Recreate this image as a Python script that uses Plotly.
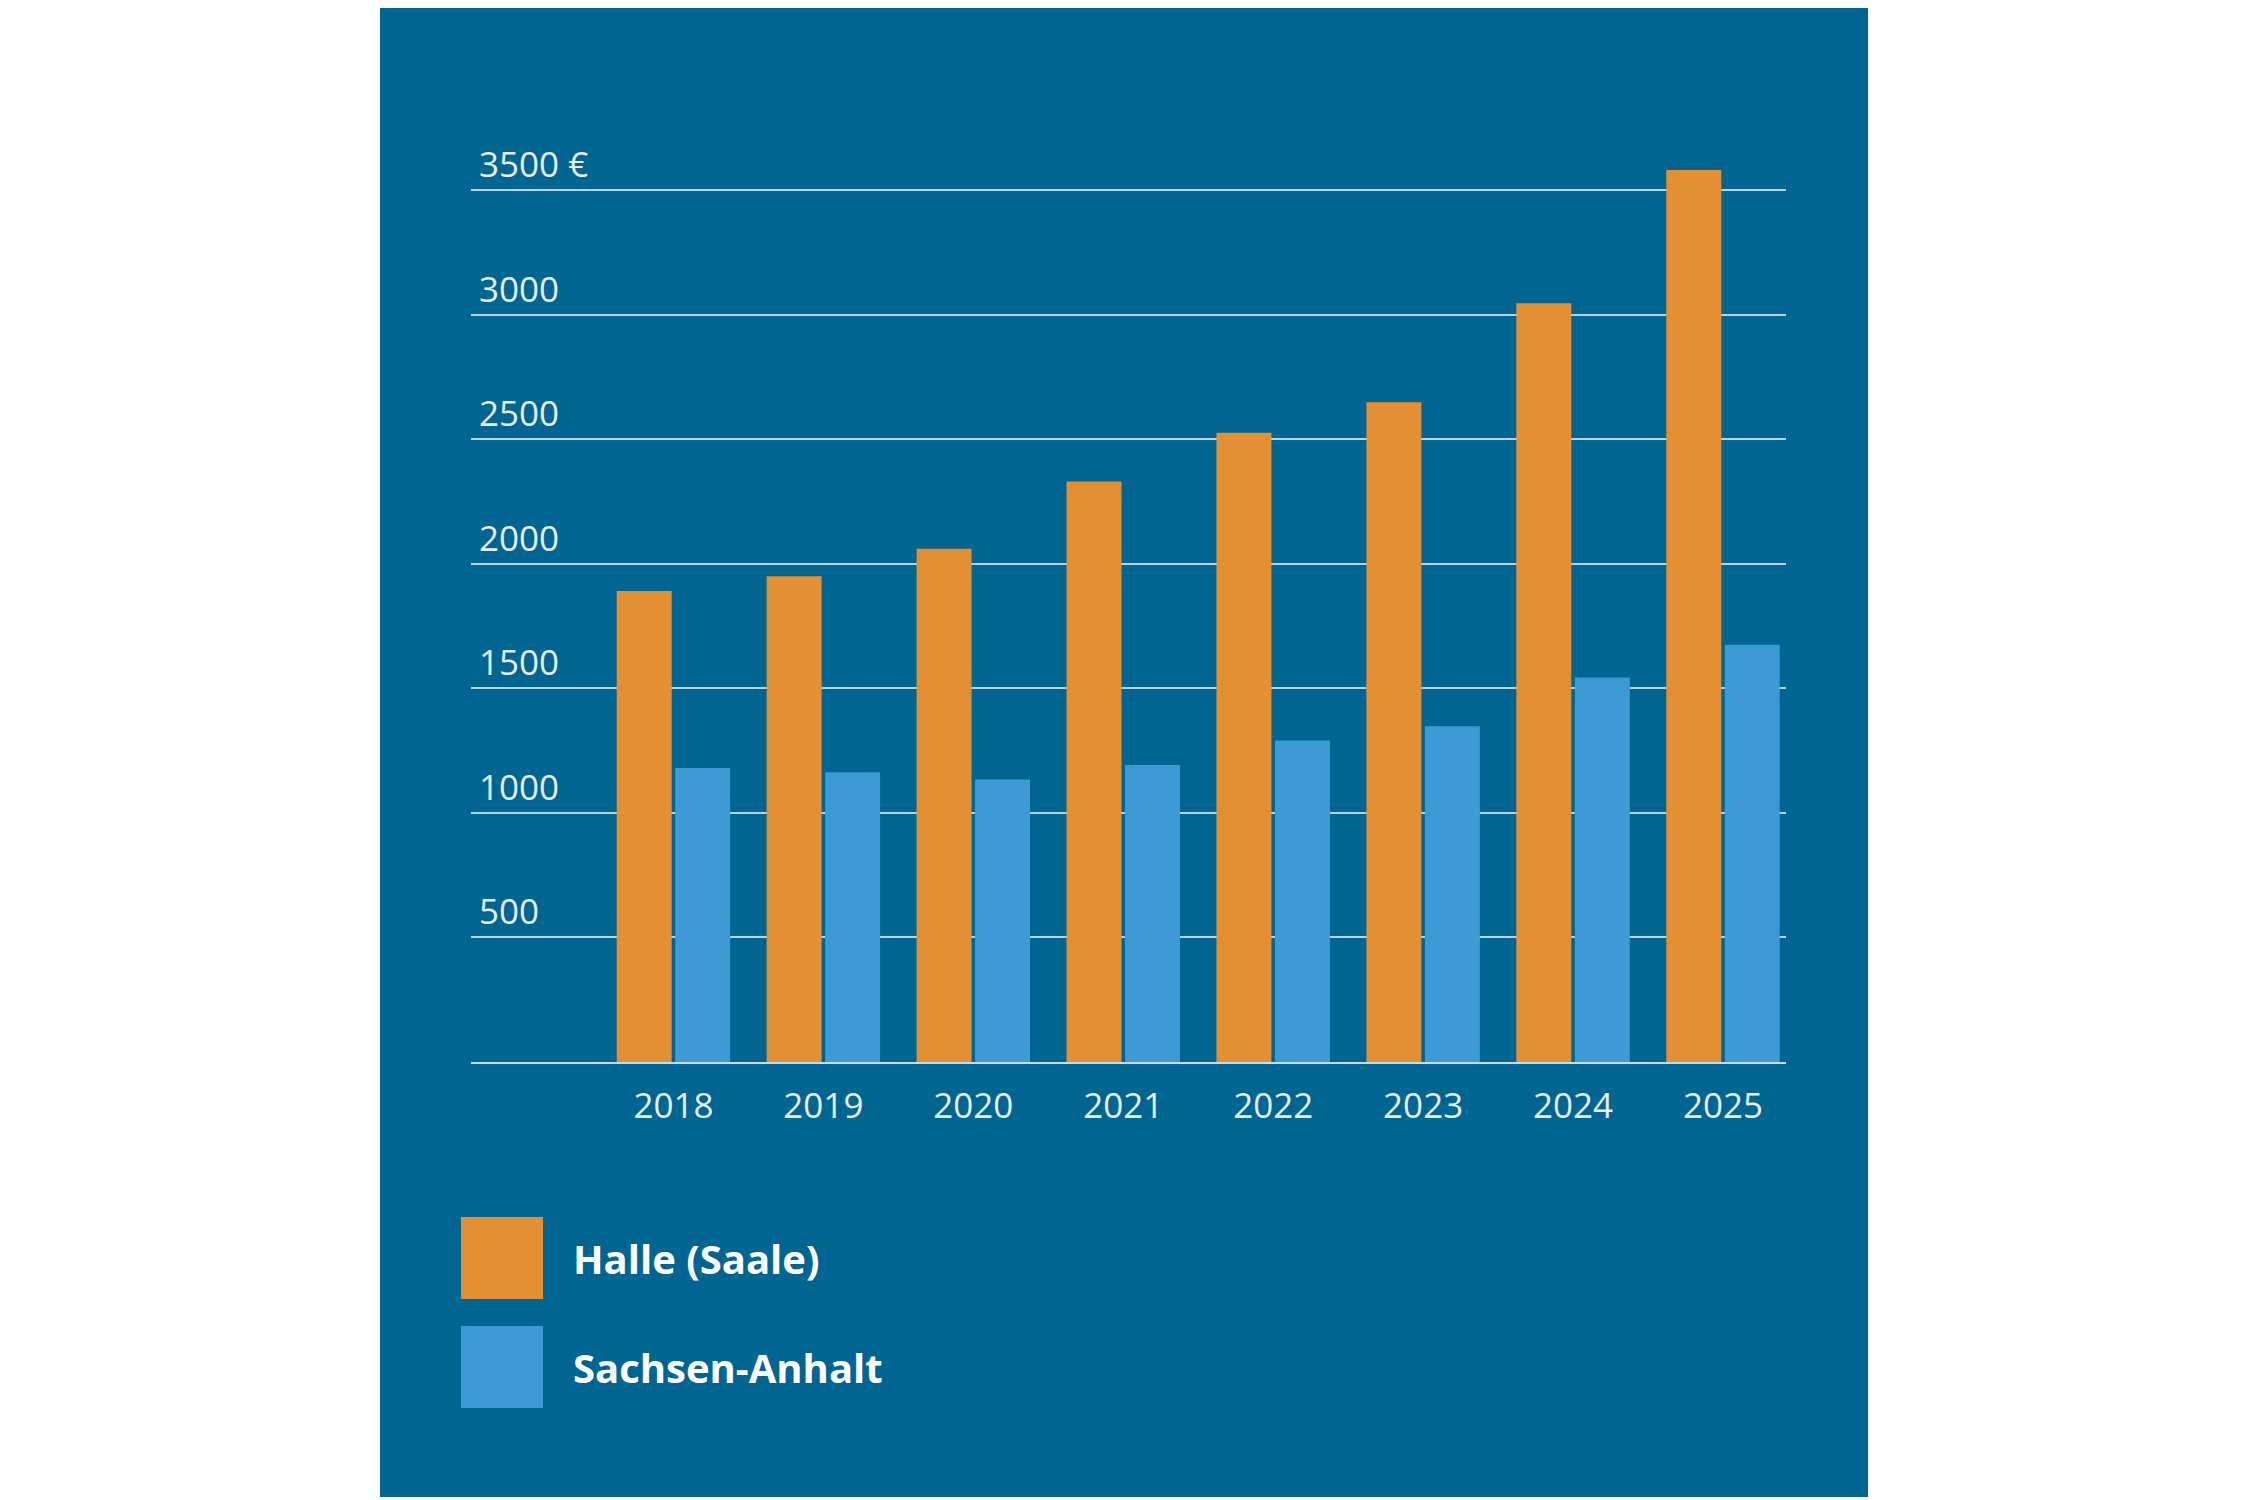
import plotly.graph_objects as go

years = ["2018", "2019", "2020", "2021", "2022", "2023", "2024", "2025"]
halle = [1890, 1950, 2060, 2330, 2525, 2648, 3045, 3580]
sachsen = [1180, 1163, 1134, 1192, 1290, 1347, 1543, 1675]
yticks = [500, 1000, 1500, 2000, 2500, 3000, 3500]
ylabels = ["500", "1000", "1500", "2000", "2500", "3000", "3500 €"]

W, H = 2250, 1500
L, R, T, B = 463, 1778, 157, 1054
YMAX = 3600
pw, ph = R - L, B - T
px = lambda x: (x - L) / pw
py = lambda y: (B - y) / ph

panel = "#006591"
orange = "#E39035"
blue = "#3E9AD4"
txt = "#E6EEF3"
font = "Open Sans"

fig = go.Figure()
fig.add_bar(x=years, y=halle, name="Halle (Saale)", marker_color=orange, marker_line_width=0)
fig.add_bar(x=years, y=sachsen, name="Sachsen-Anhalt", marker_color=blue, marker_line_width=0)

fig.add_shape(type="rect", xref="paper", yref="paper", x0=px(372), x1=px(1860), y0=py(1489), y1=py(-20),
              fillcolor=panel, line_width=0, layer="below")

for v, lab in zip(yticks, ylabels):
    fig.add_annotation(x=px(469), xref="paper", y=v, yref="y", text=lab, showarrow=False,
                       xanchor="left", yanchor="bottom", yshift=1,
                       font=dict(family=font, size=35, color=txt))

for i, (name, col) in enumerate([("Halle (Saale)", orange), ("Sachsen-Anhalt", blue)]):
    y0 = 1209 + i * 109
    fig.add_shape(type="rect", xref="paper", yref="paper", x0=px(453), x1=px(535),
                  y0=py(y0 + 82), y1=py(y0), fillcolor=col, line_width=0)
    fig.add_annotation(x=px(563), xref="paper", y=py(y0 + 41), yref="paper", text="<b>" + name + "</b>",
                       showarrow=False, xanchor="left", yanchor="middle",
                       font=dict(family=font, size=40, color="white"))

fig.update_layout(
    width=W, height=H, margin=dict(l=L, r=W - R, t=T, b=H - B),
    paper_bgcolor="white", plot_bgcolor="rgba(0,0,0,0)",
    barmode="group", bargap=0.22, bargroupgap=0.06, showlegend=False,
    xaxis=dict(type="category", range=[-1.35, 7.42], showgrid=False, showline=True,
               linecolor="#C9DCE6", linewidth=2, ticks="outside", ticklen=12, tickcolor=panel,
               tickfont=dict(family=font, size=35, color=txt)),
    yaxis=dict(range=[0, YMAX], tickvals=yticks, showticklabels=False, showgrid=True,
               gridcolor="#B9D2DF", gridwidth=2, zeroline=False),
)
fig.write_html("out.html")
